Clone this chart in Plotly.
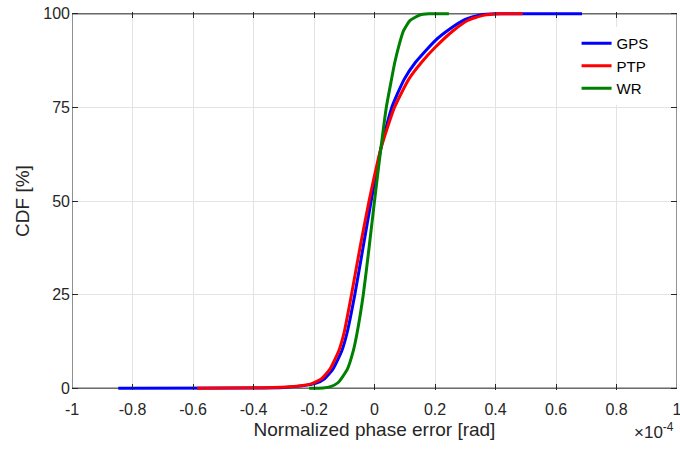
import plotly.graph_objects as go

# values in units of 1e-4 rad; CDF in percent
gps_x = [-0.847, -0.40, -0.30, -0.24, -0.195, -0.165, -0.138, -0.108, -0.09, -0.065, -0.038,
         -0.011, 0.021, 0.057, 0.098, 0.135, 0.20, 0.25, 0.30, 0.35, 0.40, 0.686]
gps_y = [0, 0.05, 0.2, 0.6, 1.25, 2.5, 5, 10, 15, 25, 37.5,
         50, 64, 75, 82.5, 87, 92.8, 96, 98.5, 99.7, 100, 100]

ptp_x = [-0.586, -0.40, -0.28, -0.215, -0.175, -0.148, -0.118, -0.10, -0.076, -0.048,
         -0.018, 0.021, 0.066, 0.113, 0.155, 0.20, 0.26, 0.31, 0.36, 0.42, 0.49]
ptp_y = [0, 0.1, 0.4, 1, 2.5, 5, 10, 15, 25, 37.5,
         50, 64, 75, 82.5, 87, 91, 95.5, 98.3, 99.6, 100, 100]

wr_x = [-0.216, -0.17, -0.145, -0.12, -0.09, -0.07, -0.057, -0.037, -0.018,
        0.0, 0.021, 0.039, 0.055, 0.067, 0.079, 0.096, 0.117, 0.15, 0.18, 0.246]
wr_y = [0, 0.05, 0.4, 1.5, 5, 10, 15, 25, 37.5,
        50, 64, 75, 82, 87, 91, 95.5, 98.2, 99.7, 100, 100]

x_ticks = [-1, -0.8, -0.6, -0.4, -0.2, 0, 0.2, 0.4, 0.6, 0.8, 1]
x_tick_labels = ["-1", "-0.8", "-0.6", "-0.4", "-0.2", "0", "0.2", "0.4", "0.6", "0.8", "1"]
y_ticks = [0, 25, 50, 75, 100]
y_tick_labels = ["0", "25", "50", "75", "100"]

series = [
    ("GPS", gps_x, gps_y, "#0000FF"),
    ("PTP", ptp_x, ptp_y, "#FF0000"),
    ("WR", wr_x, wr_y, "#008000"),
]

fig = go.Figure()
for name, xs, ys, col in series:
    fig.add_trace(go.Scatter(x=xs, y=ys, mode="lines", name=name,
                             line=dict(color=col, width=3, shape="spline", smoothing=0.5)))

axcol = "#262626"
fig.update_layout(
    width=680, height=451,
    margin=dict(l=72, r=3, t=12, b=61),
    plot_bgcolor="white", paper_bgcolor="white",
    font=dict(family="Liberation Sans, Arial, sans-serif", size=16, color=axcol),
    showlegend=True,
    legend=dict(x=0.834, y=0.96, xanchor="left", yanchor="top",
                bgcolor="rgba(255,255,255,1)", borderwidth=0,
                font=dict(size=15, color="#000000"), itemwidth=30),
)
fig.update_xaxes(
    range=[-1, 1], tickvals=x_ticks, ticktext=x_tick_labels, automargin=False,
    ticks="inside", ticklen=6, tickcolor=axcol, tickwidth=1,
    showline=False, mirror="ticks", ticklabeloverflow="allow",
    showgrid=True, gridcolor="#e3e3e3", gridwidth=1, zeroline=False,
    ticklabelstandoff=8,
    tickfont=dict(size=16, color=axcol),
    title=dict(text="Normalized phase error [rad]", font=dict(size=19, color=axcol), standoff=5),
)
fig.update_yaxes(
    range=[-0.5, 100.5], tickvals=y_ticks, ticktext=y_tick_labels, automargin=False,
    ticks="inside", ticklen=6, tickcolor=axcol, tickwidth=1,
    showline=False, mirror="ticks", ticklabeloverflow="allow",
    showgrid=True, gridcolor="#e3e3e3", gridwidth=1, zeroline=False,
    ticklabelstandoff=1,
    tickfont=dict(size=16, color=axcol),
    title=dict(text="CDF [%]", font=dict(size=19, color=axcol), standoff=8),
)
# axes box around the data area
fig.add_shape(type="rect", xref="x", yref="y", x0=x_ticks[0], x1=x_ticks[-1],
              y0=y_ticks[0], y1=y_ticks[-1], line=dict(color=axcol, width=1),
              fillcolor="rgba(0,0,0,0)", layer="between")
fig.add_annotation(text="×10<sup>-4</sup>", xref="paper", yref="paper",
                   x=1, y=-0.143, xanchor="right", yanchor="bottom", showarrow=False,
                   font=dict(size=17, color=axcol), xshift=-1)

fig.write_html("out.html", config={"displayModeBar": False},
               post_script="document.body.style.margin='0px';document.body.style.overflow='hidden';")
